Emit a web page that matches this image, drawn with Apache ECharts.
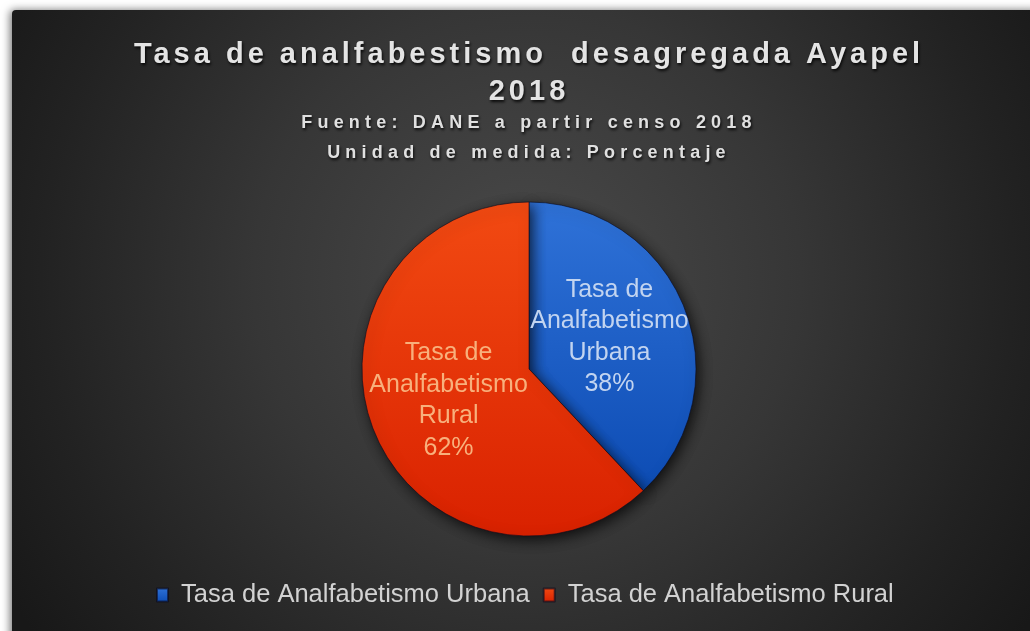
<!DOCTYPE html>
<html>
<head>
<meta charset="utf-8">
<script src="https://cdn.jsdelivr.net/npm/echarts@6/dist/echarts.min.js"></script>
<style>
  html, body { margin: 0; padding: 0; background: #ffffff; }
  #chart { width: 1030px; height: 631px; }
</style>
</head>
<body>
<div id="chart"></div>
<script>
// ---- data ----
const titleText = 'Tasa de analfabestismo  desagregada Ayapel\n2018';
const subtitleText = 'Fuente: DANE a partir censo 2018\nUnidad de medida: Porcentaje';
const categories = ['Tasa de Analfabetismo Urbana', 'Tasa de Analfabetismo Rural'];
const values = [38, 62];

// letter spacing for the bold title texts (canvas feature not exposed by ECharts)
(function () {
  const P = CanvasRenderingContext2D.prototype;
  ['fillText', 'strokeText'].forEach(function (fn) {
    const orig = P[fn];
    P[fn] = function () {
      const f = this.font || '';
      if (f.indexOf('bold') >= 0 && 'letterSpacing' in this) {
        const m = f.match(/(\d+(?:\.\d+)?)px/);
        const size = m ? parseFloat(m[1]) : 12;
        const prev = this.letterSpacing;
        this.letterSpacing = (size >= 24 ? 4 : 5.2) + 'px';
        const r = orig.apply(this, arguments);
        this.letterSpacing = prev;
        return r;
      }
      return orig.apply(this, arguments);
    };
  });
})();

const chart = echarts.init(document.getElementById('chart'), null, { renderer: 'canvas' });

const sliceColors = [
  { type: 'linear', x: 0, y: 0, x2: 0, y2: 1, colorStops: [
    { offset: 0, color: '#2f72d8' }, { offset: 1, color: '#0d4cb4' } ] },
  { type: 'linear', x: 0, y: 0, x2: 0, y2: 1, colorStops: [
    { offset: 0, color: '#f24a12' }, { offset: 1, color: '#d92100' } ] }
];
const labelColors = ['#c2d4f0', '#f8b07c'];

const option = {
  backgroundColor: '#ffffff',
  animation: false,
  graphic: [{
    type: 'rect',
    z: -10,
    silent: true,
    shape: { x: 12, y: 10, width: 1030, height: 640, r: [4, 0, 0, 0] },
    style: {
      fill: {
        type: 'radial', x: 0.5, y: 0.42, r: 0.95,
        colorStops: [
          { offset: 0, color: '#4a4a4a' },
          { offset: 0.45, color: '#363636' },
          { offset: 0.8, color: '#222222' },
          { offset: 1, color: '#181818' }
        ]
      },
      shadowBlur: 8,
      shadowColor: 'rgba(0,0,0,0.55)',
      shadowOffsetX: -2,
      shadowOffsetY: 0
    }
  }],
  title: {
    text: titleText,
    subtext: subtitleText,
    left: 524,
    textAlign: 'center',
    top: 31,
    itemGap: -2,
    textStyle: {
      color: '#e4e4e4',
      fontFamily: 'Liberation Sans',
      fontWeight: 'bold',
      fontSize: 29,
      lineHeight: 37,
      textShadowColor: 'rgba(0,0,0,0.85)',
      textShadowBlur: 3,
      textShadowOffsetX: 1,
      textShadowOffsetY: 2
    },
    subtextStyle: {
      color: '#e0e0e0',
      fontFamily: 'Liberation Sans',
      fontWeight: 'bold',
      fontSize: 18,
      lineHeight: 30,
      textShadowColor: 'rgba(0,0,0,0.85)',
      textShadowBlur: 3,
      textShadowOffsetX: 1,
      textShadowOffsetY: 2
    }
  },
  legend: {
    data: categories,
    left: 151,
    top: 577,
    icon: 'rect',
    itemWidth: 11,
    itemHeight: 13,
    itemGap: 13,
    textStyle: {
      color: '#d2d2d2',
      fontFamily: 'Liberation Sans',
      fontSize: 25.5,
      padding: [0, 0, 0, 8]
    }
  },
  series: [{
    type: 'pie',
    center: [529, 369],
    radius: 167,
    startAngle: 90,
    clockwise: true,
    silent: true,
    data: categories.map(function (name, i) {
      return {
        name: name,
        value: values[i],
        itemStyle: { color: sliceColors[i] },
        label: { color: labelColors[i] }
      };
    }),
    itemStyle: {
      borderColor: 'rgba(10,10,30,0.6)',
      borderWidth: 1,
      shadowBlur: 14,
      shadowColor: 'rgba(0,0,0,0.75)',
      shadowOffsetX: 3,
      shadowOffsetY: 4
    },
    label: {
      show: true,
      position: 'inside',
      fontFamily: 'Liberation Sans',
      fontSize: 25,
      lineHeight: 31.5,
      align: 'center',
      padding: [8, 0, 0, 0],
      formatter: function (p) {
        const parts = p.name.split(' ');
        return parts.slice(0, 2).join(' ') + '\n' + parts[2] + '\n' + parts.slice(3).join(' ') +
          '\n' + Math.round(p.percent) + '%';
      }
    },
    labelLine: { show: false }
  }]
};

chart.setOption(option);
</script>
</body>
</html>
